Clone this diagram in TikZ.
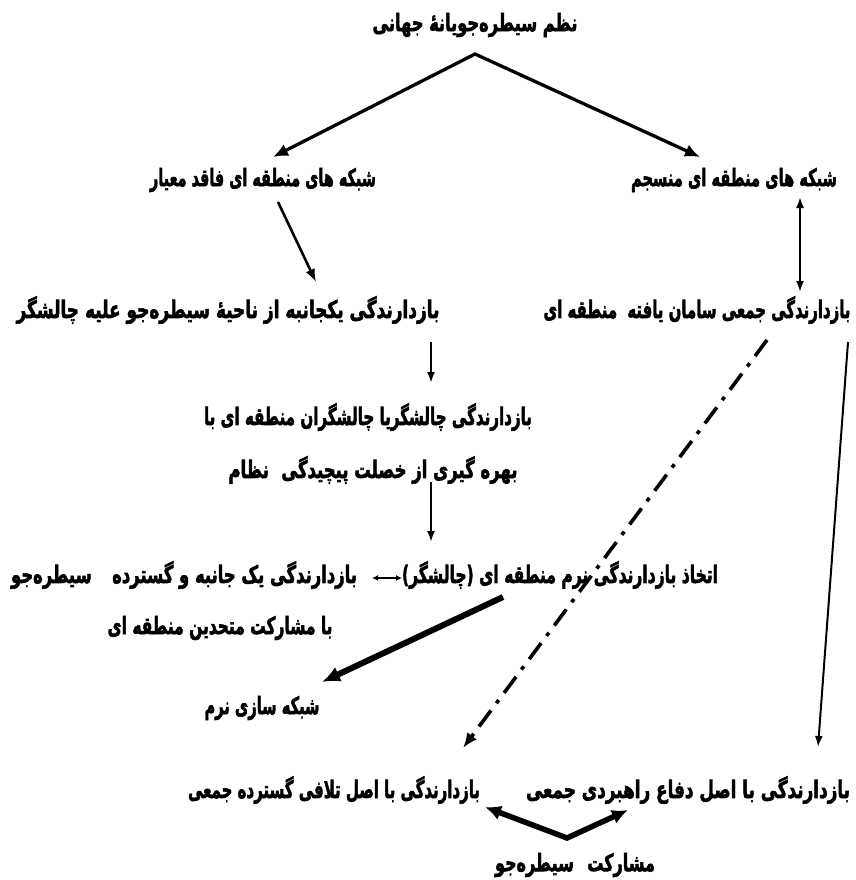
\documentclass[tikz,border=0pt]{standalone}
\usepackage{fontspec}
\usepackage{graphicx}
\usetikzlibrary{arrows.meta,calc}
\TeXXeTstate=1
\newfontfamily\fa[Script=Arabic,BoldFeatures={FakeBold=2.5}]{DejaVu Sans}
\newcommand{\fitfa}[2]{\resizebox{#1pt}{\height}{\fa\bfseries\fontsize{24}{27}\selectfont #2}}
\begin{document}
\begin{tikzpicture}[x=1pt,y=-1pt,
  lbl/.style={inner sep=0pt, anchor=center},
  arrT/.style={{Latex[length=15pt,width=13pt]}-{Latex[length=15pt,width=13pt]}, line width=3.3pt, line join=miter},
  arrM/.style={-{Latex[length=13pt,width=10pt]}, line width=2.6pt},
  arrS/.style={-{Latex[length=11pt,width=8pt]}, line width=2pt},
  arrSS/.style={{Latex[length=11pt,width=8pt]}-{Latex[length=11pt,width=8pt]}, line width=2pt},
  arrTiny/.style={{Latex[length=6pt,width=6pt]}-{Latex[length=6pt,width=6pt]}, line width=1.6pt},
  arrH/.style={-{Latex[length=18pt,width=16pt]}, line width=6pt},
  arrV/.style={{Latex[length=16pt,width=15pt]}-{Latex[length=16pt,width=15pt]}, line width=5.5pt, line join=miter},
  dashdotline/.style={-{Latex[length=15pt,width=12pt]}, line width=3.6pt, dash pattern=on 20pt off 9pt on 4pt off 9pt}
]
\fill[white] (0,0) rectangle (855,880);
\useasboundingbox (0,0) rectangle (855,880);

\node[lbl] (title)  at (475,25)  {\fitfa{205}{\beginR نظم سیطره‌جویانهٔ جهانی\endR}};
\node[lbl] (netL)   at (263,180) {\fitfa{226}{\beginR شبکه های منطقه ای فاقد معیار\endR}};
\node[lbl] (netR)   at (734,180) {\fitfa{206}{\beginR شبکه های منطقه ای منسجم\endR}};
\node[lbl] (detL)   at (228,310) {\fitfa{423}{\beginR بازدارندگی یکجانبه از ناحیهٔ سیطره‌جو علیه چالشگر\endR}};
\node[lbl] (detR)   at (697,310) {\fitfa{307}{\beginR بازدارندگی جمعی سامان یافته\hspace{8pt} منطقه ای\endR}};
\node[lbl] (chalA)  at (368,417) {\fitfa{328}{\beginR بازدارندگی چالشگریا چالشگران منطقه ای با\endR}};
\node[lbl] (chalB)  at (373,470) {\fitfa{289}{\beginR بهره گیری از خصلت پیچیدگی\hspace{18pt}نظام\endR}};
\node[lbl] (soft)   at (560,575) {\fitfa{316}{\beginR اتخاذ بازدارندگی نرم منطقه ای (چالشگر)\endR}};
\node[lbl] (uni)    at (184,575) {\fitfa{346}{\beginR بازدارندگی یک جانبه و گسترده\hspace{30pt}سیطره‌جو\endR}};
\node[lbl] (allies) at (220,628) {\fitfa{225}{\beginR با مشارکت متحدین منطقه ای\endR}};
\node[lbl] (softnet) at (262,708) {\fitfa{115}{\beginR شبکه سازی نرم\endR}};
\node[lbl] (defR)   at (688,790) {\fitfa{324}{\beginR بازدارندگی با اصل دفاع راهبردی جمعی\endR}};
\node[lbl] (retL)   at (334,790) {\fitfa{292}{\beginR بازدارندگی با اصل تلافی گسترده جمعی\endR}};
\node[lbl] (part)   at (575,865) {\fitfa{160}{\beginR مشارکت\hspace{20pt}سیطره‌جو\endR}};

\coordinate (apex) at ([shift={(0,29)}]title.center);
\draw[arrT] ([shift={(10,-23)}]netL.center) -- (apex) -- ([shift={(-34,-23)}]netR.center);
\draw[arrM] ([shift={(15,22)}]netL.center) -- ([shift={(88,-28)}]detL.center);
\draw[arrSS] ([shift={(66,17)}]netR.center) -- ([shift={(103,-18)}]detR.center);
\draw[arrS] ([shift={(203,32)}]detL.center) -- ([shift={(63,-34)}]chalA.center);
\draw[arrS] ([shift={(58,12)}]chalB.center) -- ([shift={(-129,-33)}]soft.center);
\draw[arrTiny] ([shift={(-158,3)}]soft.center) -- ([shift={(188,3)}]uni.center);
\draw[arrH] ([shift={(-57,22)}]soft.center) -- ([shift={(60,-26)}]softnet.center);
\draw[dashdotline] ([shift={(70,30)}]detR.center) -- ([shift={(129,-42)}]retL.center);
\draw[arrS] ([shift={(151,32)}]detR.center) -- ([shift={(130,-43)}]defR.center);
\coordinate (vapex) at ([shift={(-8,-27)}]part.center);
\draw[arrV] ([shift={(151,17)}]retL.center) -- (vapex) -- ([shift={(-60,20)}]defR.center);
\end{tikzpicture}
\end{document}
